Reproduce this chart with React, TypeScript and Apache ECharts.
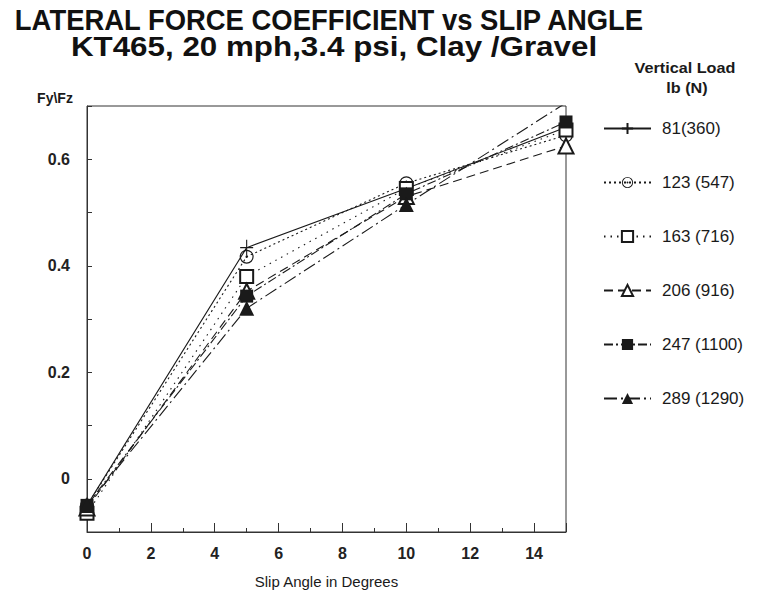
import React, { useEffect, useRef } from "react";
import * as echarts from "echarts";

// Slip angles (degrees) at which the lateral force coefficient was measured
const slipAngles = [0, 5, 10, 15];

// Fy/Fz for each vertical load, lb (N)
const load81 = [-0.05, 0.434, 0.545, 0.66];
const load123 = [-0.05, 0.417, 0.555, 0.645];
const load163 = [-0.065, 0.38, 0.545, 0.655];
const load206 = [-0.055, 0.352, 0.53, 0.625];
const load247 = [-0.05, 0.343, 0.535, 0.67];
const load289 = [-0.05, 0.32, 0.515, 0.706];

const seriesNames = [
  "81(360)",
  "123 (547)",
  "163 (716)",
  "206 (916)",
  "247 (1100)",
  "289 (1290)",
];

const xTicks = [0, 2, 4, 6, 8, 10, 12, 14];

const FONT = "'Liberation Sans', Arial, Helvetica, sans-serif";
const INK = "#1a1a1a";

const PLUS = "path://M0,8L16,8M8,0L8,16";
const DOT_CIRCLE =
  "path://M0,10A10,10,0,1,1,20,10A10,10,0,1,1,0,10ZM1.7,10A8.3,8.3,0,1,0,18.3,10A8.3,8.3,0,1,0,1.7,10ZM8.3,10A1.7,1.7,0,1,1,11.7,10A1.7,1.7,0,1,1,8.3,10Z";

function pairs(values: number[]) {
  return slipAngles.map((x, i) => [x, values[i]]);
}

export default function App() {
  const ref = useRef<HTMLDivElement>(null);

  useEffect(() => {
    if (!ref.current) return;
    const chart = echarts.init(ref.current, null, { renderer: "svg" });

    const base = (
      name: string,
      values: number[],
      symbol: string,
      symbolSize: number | number[],
      dash: any,
      itemStyle: any
    ) => ({
      name,
      type: "line",
      data: pairs(values),
      symbol,
      symbolSize,
      showAllSymbol: true,
      lineStyle: { color: INK, width: 1.1, type: dash },
      itemStyle: { color: INK, ...itemStyle },
      z: 3,
    });

    const series = [
      base(seriesNames[0], load81, PLUS, [13, 16], "solid", {
        borderColor: INK,
        borderWidth: 1.2,
      }),
      base(seriesNames[1], load123, DOT_CIRCLE, 14, [2, 3], {
        borderWidth: 0,
      }),
      base(seriesNames[2], load163, "emptyRect", 13, [1.5, 5], {
        borderColor: INK,
        borderWidth: 1.1,
      }),
      base(seriesNames[3], load206, "emptyTriangle", 15, [9, 5], {
        borderColor: INK,
        borderWidth: 1.1,
      }),
      base(seriesNames[4], load247, "rect", 13, [9, 3, 2, 3], {
        borderWidth: 0,
      }),
      base(seriesNames[5], load289, "triangle", 15, [13, 4, 2, 4], {
        borderWidth: 0,
      }),
    ];

    const centered = {
      textAlign: "center",
      textVerticalAlign: "middle",
      align: "center",
      verticalAlign: "middle",
    };

    chart.setOption({
      animation: false,
      backgroundColor: "#ffffff",
      textStyle: { fontFamily: FONT, color: INK },
      grid: {
        left: 87,
        right: 207,
        top: 106,
        bottom: 70,
        show: true,
        borderColor: "#333",
        borderWidth: 1,
        backgroundColor: "transparent",
      },
      xAxis: {
        type: "value",
        min: 0,
        max: 15,
        interval: 2,
        name: "Slip Angle in Degrees",
        nameLocation: "middle",
        nameGap: 42,
        nameTextStyle: { fontSize: 15, color: INK, fontFamily: FONT },
        axisLine: { show: true, onZero: false, lineStyle: { color: "#333", width: 1 } },
        axisTick: { show: true, inside: true, length: 9, lineStyle: { color: "#333" } },
        minorTick: { show: true, splitNumber: 2, length: 4, lineStyle: { color: "#333" } },
        splitLine: { show: false },
        axisLabel: {
          showMaxLabel: false,
          margin: 13,
          fontSize: 16,
          fontWeight: "bold",
          color: "#222",
          fontFamily: FONT,
          formatter: (v: number) => (xTicks.includes(v) ? String(v) : ""),
        },
      },
      yAxis: {
        type: "value",
        min: -0.1,
        max: 0.7,
        interval: 0.1,
        axisLine: { show: true, onZero: false, lineStyle: { color: "#333", width: 1 } },
        axisTick: { show: true, inside: true, length: 5, lineStyle: { color: "#333" } },
        splitLine: { show: false },
        axisLabel: {
          margin: 17,
          fontSize: 16,
          fontWeight: "bold",
          color: "#222",
          fontFamily: FONT,
          formatter: (v: number) => {
            const tenths = Math.round(v * 10);
            if (tenths < 0 || tenths % 2 !== 0) return "";
            return tenths === 0 ? "0" : (tenths / 10).toFixed(1);
          },
        },
      },
      legend: {
        orient: "vertical",
        left: 598,
        top: 115,
        itemWidth: 47,
        itemHeight: 14,
        itemGap: 37,
        data: seriesNames,
        textStyle: {
          fontSize: 17,
          color: INK,
          fontFamily: FONT,
          padding: [0, 0, 0, 6],
        },
      },
      graphic: [
        {
          type: "text",
          x: 329,
          y: 20,
          scaleX: 0.946,
          style: {
            text: "LATERAL FORCE COEFFICIENT vs SLIP ANGLE",
            font: `bold 29px ${FONT}`,
            fill: "#111",
            ...centered,
          },
        },
        {
          type: "text",
          x: 334,
          y: 46,
          scaleX: 1.12,
          style: {
            text: "KT465, 20 mph,3.4 psi, Clay /Gravel",
            font: `bold 28px ${FONT}`,
            fill: "#111",
            ...centered,
          },
        },
        {
          type: "text",
          x: 55,
          y: 98,
          style: {
            text: "Fy\\Fz",
            font: `bold 14px ${FONT}`,
            fill: INK,
            ...centered,
          },
        },
        {
          type: "text",
          x: 685,
          y: 68,
          scaleX: 1.08,
          style: {
            text: "Vertical Load",
            font: `bold 15px ${FONT}`,
            fill: INK,
            ...centered,
          },
        },
        {
          type: "text",
          x: 687,
          y: 88,
          scaleX: 1.08,
          style: {
            text: "lb (N)",
            font: `bold 15px ${FONT}`,
            fill: INK,
            ...centered,
          },
        },
      ],
      series,
    });

    return () => chart.dispose();
  }, []);

  return (
    <div
      ref={ref}
      style={{ position: "fixed", left: 0, top: 0, width: 773, height: 602 }}
    />
  );
}
